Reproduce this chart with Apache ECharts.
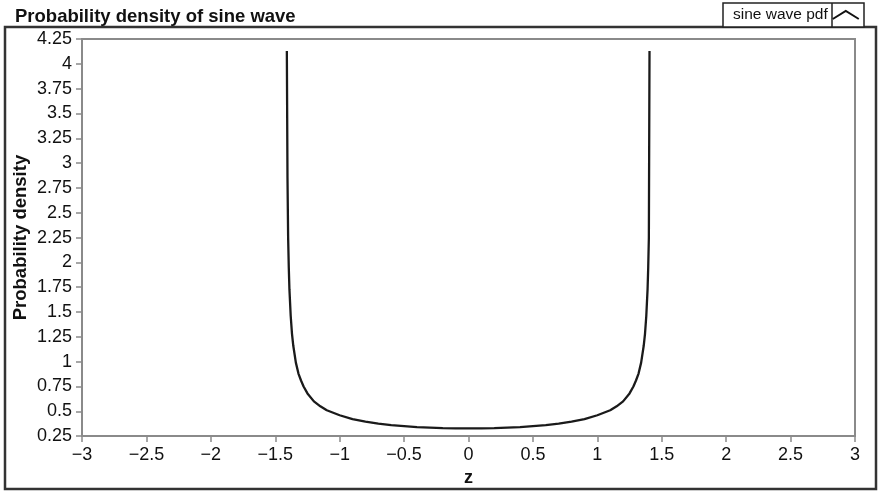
<!DOCTYPE html>
<html>
<head>
<meta charset="utf-8">
<style>
  html, body { margin: 0; padding: 0; background: #fff; }
  #chart { width: 879px; height: 492px; }
</style>
<script src="https://cdn.jsdelivr.net/npm/echarts@6/dist/echarts.min.js"></script>
</head>
<body>
<div id="chart"></div>
<script>
// ---- data ----
var titleText = 'Probability density of sine wave';
var seriesName = 'sine wave pdf';
var xAxisName = 'z';
var yAxisName = 'Probability density';

var zValues = [
  -1.41, -1.405, -1.40, -1.395, -1.39, -1.38, -1.37, -1.36, -1.34, -1.32,
  -1.30, -1.28, -1.25, -1.20, -1.15, -1.10, -1.00, -0.90, -0.80, -0.70,
  -0.60, -0.50, -0.40, -0.30, -0.20, -0.10, 0.00,
  0.10, 0.20, 0.30, 0.40, 0.50, 0.60, 0.70, 0.80, 0.90,
  1.00, 1.10, 1.15, 1.20, 1.25, 1.28, 1.30, 1.32, 1.34, 1.36,
  1.37, 1.38, 1.39, 1.395, 1.40, 1.405
];
var density = [
  4.13, 2.85, 2.25, 1.95, 1.73, 1.46, 1.28, 1.16, 0.99, 0.88,
  0.81, 0.75, 0.68, 0.60, 0.55, 0.51, 0.46, 0.42, 0.395, 0.375,
  0.36, 0.35, 0.34, 0.335, 0.33, 0.328, 0.327,
  0.328, 0.33, 0.335, 0.34, 0.35, 0.36, 0.375, 0.395, 0.42,
  0.46, 0.51, 0.55, 0.60, 0.68, 0.75, 0.81, 0.88, 0.99, 1.16,
  1.28, 1.46, 1.73, 1.95, 2.25, 4.13
];

var xMin = -3, xMax = 3, xStep = 0.5;
var yMin = 0.25, yMax = 4.25, yStep = 0.25;

// ---- build chart ----
var points = zValues.map(function (z, i) { return [z, density[i]]; });
var font = '"Liberation Sans", Arial, Helvetica, sans-serif';

var chart = echarts.init(document.getElementById('chart'), null, { renderer: 'canvas' });
chart.setOption({
  animation: false,
  backgroundColor: '#ffffff',
  textStyle: { fontFamily: font },
  title: {
    text: titleText,
    left: 15, top: 7, padding: 0,
    textStyle: { fontFamily: font, fontSize: 18.5, fontWeight: 'bold', color: '#111' }
  },
  legend: {
    data: [seriesName],
    left: 733, top: 7, padding: 0,
    align: 'right',
    itemWidth: 26, itemHeight: 8,
    icon: 'path://M0,8 L13,0 L26,8',
    itemStyle: { color: 'transparent', borderColor: '#111', borderWidth: 2 },
    textStyle: { fontFamily: font, fontSize: 15.5, color: '#111' }
  },
  graphic: [
    { type: 'rect', z: 0, shape: { x: 5, y: 27, width: 871, height: 462 },
      style: { fill: 'none', stroke: '#333', lineWidth: 2.5 } },
    { type: 'rect', z: 0, shape: { x: 723, y: 3, width: 141, height: 24 },
      style: { fill: '#fff', stroke: '#222', lineWidth: 1.5 } },
    { type: 'line', z: 0, shape: { x1: 832, y1: 3, x2: 832, y2: 27 },
      style: { stroke: '#222', lineWidth: 1.5 } }
  ],
  grid: {
    left: 82, right: 24, top: 39, bottom: 54.5,
    show: true, borderColor: '#8a8a8a', borderWidth: 2, backgroundColor: '#fff'
  },
  xAxis: {
    type: 'value', min: xMin, max: xMax, interval: xStep,
    name: xAxisName, nameLocation: 'middle', nameGap: 30,
    nameTextStyle: { fontFamily: font, fontSize: 18, fontWeight: 'bold', color: '#111' },
    axisLine: { show: true, onZero: false, lineStyle: { color: '#8a8a8a', width: 2 } },
    axisTick: { show: true, length: 6, lineStyle: { color: '#8a8a8a', width: 1.5 } },
    axisLabel: {
      margin: 10, fontSize: 18, color: '#111', fontFamily: font,
      formatter: function (v) { return v < 0 ? '\u2212' + Math.abs(v) : String(v); }
    },
    splitLine: { show: false }
  },
  yAxis: {
    type: 'value', min: yMin, max: yMax, interval: yStep,
    name: yAxisName, nameLocation: 'middle', nameGap: 52, nameMoveOverlap: false,
    nameTextStyle: { fontFamily: font, fontSize: 18.5, fontWeight: 'bold', color: '#111' },
    axisLine: { show: true, onZero: false, lineStyle: { color: '#8a8a8a', width: 2 } },
    axisTick: { show: true, length: 6, lineStyle: { color: '#8a8a8a', width: 1.5 } },
    axisLabel: { margin: 10, fontSize: 18, color: '#111', fontFamily: font },
    splitLine: { show: false }
  },
  series: [{
    name: seriesName,
    type: 'line',
    data: points,
    showSymbol: false,
    smooth: false,
    lineStyle: { color: '#1a1a1a', width: 2.3 },
    itemStyle: { color: '#1a1a1a' }
  }]
});
</script>
</body>
</html>
